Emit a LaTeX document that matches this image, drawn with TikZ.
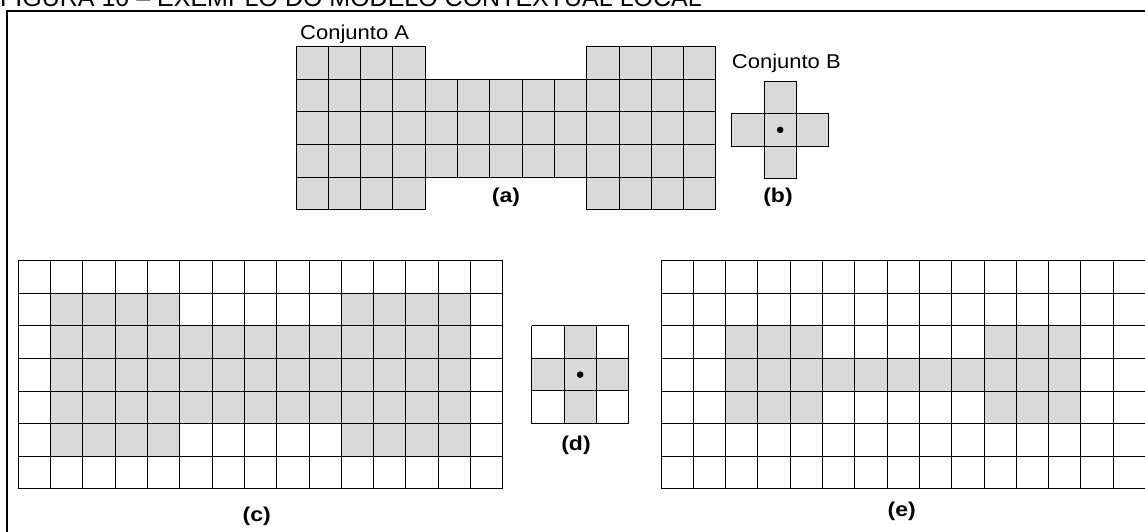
\documentclass[tikz,border=0pt]{standalone}
\usepackage{fontspec}
\setmainfont{Liberation Sans}

\begin{document}
\begin{tikzpicture}[x=1pt, y=-1pt,
    cel/.style={draw=black, line width=1pt, fill=gray!30},
    grade/.style={draw=black, line width=1pt},
    rotulo/.style={font=\fontsize{20}{20}\selectfont, inner sep=0pt, xscale=1.1},
    letra/.style={font=\bfseries\fontsize{20}{20}\selectfont, inner sep=0pt, xscale=1.15}]

    \useasboundingbox (0,0) rectangle (1145,531);

    % titulo (cortado no topo) e moldura
    \node[anchor=base west, inner sep=0pt, font=\fontsize{25}{25}\selectfont] (titulo) at (0,6) {FIGURA 10 – EXEMPLO DO MODELO CONTEXTUAL LOCAL};
    \draw[line width=2pt] (7,545) -- (7,10.5) -- (1160,10.5);

    % ================= (a): conjunto A =================
    \begin{scope}[shift={(296,46.7)}, x=32.3pt, y=-32.6pt]
        % blocos laterais 4x5
        \foreach \c in {0,1,2,3,9,10,11,12}
            \foreach \r in {0,...,4}
                \draw[cel] (\c,\r) rectangle ++(1,1);
        % faixa central 5x3
        \foreach \c in {4,...,8}
            \foreach \r in {1,2,3}
                \draw[cel] (\c,\r) rectangle ++(1,1);
    \end{scope}
    \node[rotulo, anchor=base west] (conjA) at (300,39.3) {Conjunto A};
    \node[letra, anchor=base] (rotA) at (506,202) {(a)};

    % ================= (b): conjunto B =================
    \begin{scope}[shift={(731.7,81)}, x=32.3pt, y=-32.6pt]
        \foreach \c/\r in {1/0, 0/1, 1/1, 2/1, 1/2}
            \draw[cel] (\c,\r) rectangle ++(1,1);
        \coordinate (centroB) at (1.5,1.5);
    \end{scope}
    \fill (centroB) circle (3.3);
    \node[rotulo, anchor=base west] (conjB) at (731.7,68.3) {Conjunto B};
    \node[letra, anchor=base] (rotB) at (778,202) {(b)};

    % ================= (c): A na grade =================
    \begin{scope}[shift={(18.3,260.7)}, x=32.3pt, y=-32.6pt]
        \fill[gray!30] (1,1) rectangle (5,6);
        \fill[gray!30] (10,1) rectangle (14,6);
        \fill[gray!30] (5,2) rectangle (10,5);
        \foreach \c in {0,...,15} \draw[grade] (\c,0) -- (\c,7);
        \foreach \r in {0,...,7} \draw[grade] (0,\r) -- (15,\r);
    \end{scope}
    \node[letra, anchor=base] (rotC) at (256.7,521) {(c)};

    % ================= (d): elemento estruturante =================
    \begin{scope}[shift={(531.7,325.7)}, x=32.3pt, y=-32.6pt]
        \fill[gray!30] (1,0) rectangle (2,3);
        \fill[gray!30] (0,1) rectangle (3,2);
        \foreach \i in {0,...,3} {
            \draw[grade] (\i,0) -- (\i,3);
            \draw[grade] (0,\i) -- (3,\i);
        }
        \coordinate (centroD) at (1.5,1.5);
    \end{scope}
    \fill (centroD) circle (3.3);
    \node[letra, anchor=base] (rotD) at (576,450) {(d)};

    % ================= (e): resultado =================
    \begin{scope}[shift={(661,260.7)}, x=32.3pt, y=-32.6pt]
        \fill[gray!30] (2,2) rectangle (5,5);
        \fill[gray!30] (10,2) rectangle (13,5);
        \fill[gray!30] (5,3) rectangle (10,4);
        \foreach \c in {0,...,15} \draw[grade] (\c,0) -- (\c,7);
        \foreach \r in {0,...,7} \draw[grade] (0,\r) -- (15,\r);
    \end{scope}
    \node[letra, anchor=base] (rotE) at (901.7,516) {(e)};

\end{tikzpicture}
\end{document}
